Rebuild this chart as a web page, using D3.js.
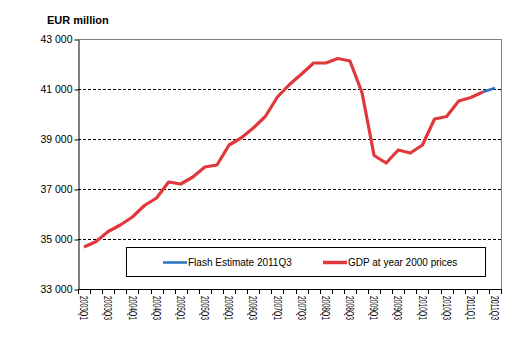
<!DOCTYPE html>
<html><head><meta charset="utf-8">
<script src="https://cdn.jsdelivr.net/npm/d3@7"></script>
<style>body{margin:0;background:#fff}svg{display:block}text{font-family:"Liberation Sans",Arial,sans-serif}</style>
</head><body>
<svg id="c" width="521" height="355"></svg>
<script>
const categories = ["2003Q1","2003Q2","2003Q3","2003Q4","2004Q1","2004Q2","2004Q3","2004Q4",
"2005Q1","2005Q2","2005Q3","2005Q4","2006Q1","2006Q2","2006Q3","2006Q4",
"2007Q1","2007Q2","2007Q3","2007Q4","2008Q1","2008Q2","2008Q3","2008Q4",
"2009Q1","2009Q2","2009Q3","2009Q4","2010Q1","2010Q2","2010Q3","2010Q4",
"2011Q1","2011Q2","2011Q3"];
const gdp = [34680,34900,35300,35560,35880,36340,36640,37280,
37200,37480,37880,37960,38760,39040,39440,39900,
40680,41180,41600,42040,42040,42220,42120,40860,
38340,38040,38560,38440,38760,39800,39900,40520,
40660,40880,null];
const flash = [null,null,null,null,null,null,null,null,null,null,null,null,null,null,null,null,
null,null,null,null,null,null,null,null,null,null,null,null,null,null,null,null,
null,40880,41040];
const yTicks = [33000,35000,37000,39000,41000,43000];
const gridTicks = [35000,37000,39000,41000];
const xLabels = categories.filter((d,i)=>i%2===0);
const seriesNames = ["Flash Estimate 2011Q3","GDP at year 2000 prices"];

const svg = d3.select("#c");
const L=78, R=501, T=39, B=289;
const x = d3.scaleBand().domain(categories).range([L,R]).paddingInner(0).paddingOuter(0);
const y = d3.scaleLinear().domain([33000,43000]).range([B,T]);
const fmt = v => d3.format(",")(v).replace(",", " ");

// grid
svg.append("g").selectAll("line").data(gridTicks).join("line")
  .attr("x1",L).attr("x2",R).attr("y1",d=>y(d)+0.5).attr("y2",d=>y(d)+0.5)
  .attr("stroke","#000").attr("stroke-width",1).attr("stroke-dasharray","3,2");
// plot border top/right
svg.append("line").attr("x1",L).attr("x2",R+0.5).attr("y1",T+0.5).attr("y2",T+0.5).attr("stroke","#808080");
svg.append("line").attr("x1",R+0.5).attr("x2",R+0.5).attr("y1",T).attr("y2",B).attr("stroke","#808080");

// y axis
const ya = svg.append("g").attr("transform",`translate(${L+0.5},0.5)`)
  .call(d3.axisLeft(y).tickValues(yTicks).tickSize(4).tickSizeOuter(0).tickFormat(fmt));
ya.select(".domain").attr("stroke","#000");
ya.selectAll(".tick line").attr("stroke","#000");
ya.selectAll(".tick text").attr("font-size","10.5px").attr("fill","#000").attr("font-family","Liberation Sans, Arial, sans-serif").attr("x",-6);

// x axis
svg.append("line").attr("x1",L).attr("x2",R+1).attr("y1",B+0.5).attr("y2",B+0.5).attr("stroke","#000");
const bounds = categories.map(c=>x(c)).concat([x(categories[categories.length-1])+x.bandwidth()]);
svg.append("g").selectAll("line").data(bounds).join("line")
  .attr("x1",d=>Math.round(d)+0.5).attr("x2",d=>Math.round(d)+0.5).attr("y1",B).attr("y2",B+5)
  .attr("stroke","#000");
svg.append("g").selectAll("text").data(xLabels).join("text")
  .attr("transform",d=>`translate(${x(d)+x.bandwidth()/2-3.8},${B+7}) rotate(90)`)
  .attr("font-size","10.5px").attr("textLength",24).attr("lengthAdjust","spacingAndGlyphs")
  .attr("fill","#000").text(d=>d);

// lines
const line = d3.line().defined(d=>d.v!=null).x(d=>x(d.c)+x.bandwidth()/2).y(d=>y(d.v));
svg.append("path").datum(categories.map((c,i)=>({c,v:gdp[i]})))
  .attr("d",line).attr("fill","none").attr("stroke","#e0383c").attr("stroke-width",3.2).attr("stroke-linejoin","round");
svg.append("path").datum(categories.map((c,i)=>({c,v:flash[i]})))
  .attr("d",line).attr("fill","none").attr("stroke","#2a72c0").attr("stroke-width",2.5);

// legend
svg.append("rect").attr("x",126.5).attr("y",247.5).attr("width",359).attr("height",29)
  .attr("fill","#fff").attr("stroke","#000");
const lg = [{n:seriesNames[0],c:"#2a72c0",w:2.5,x:163},{n:seriesNames[1],c:"#e0383c",w:3.5,x:323}];
lg.forEach(d=>{
  svg.append("line").attr("x1",d.x).attr("x2",d.x+24).attr("y1",262.5).attr("y2",262.5).attr("stroke",d.c).attr("stroke-width",d.w);
  svg.append("text").attr("x",d.x+25).attr("y",266).attr("font-size","10px").attr("fill","#000").text(d.n);
});

// title
svg.append("text").attr("x",47).attr("y",24).attr("font-size","11px").attr("font-weight","bold").attr("fill","#000").text("EUR million");
</script>
</body></html>
